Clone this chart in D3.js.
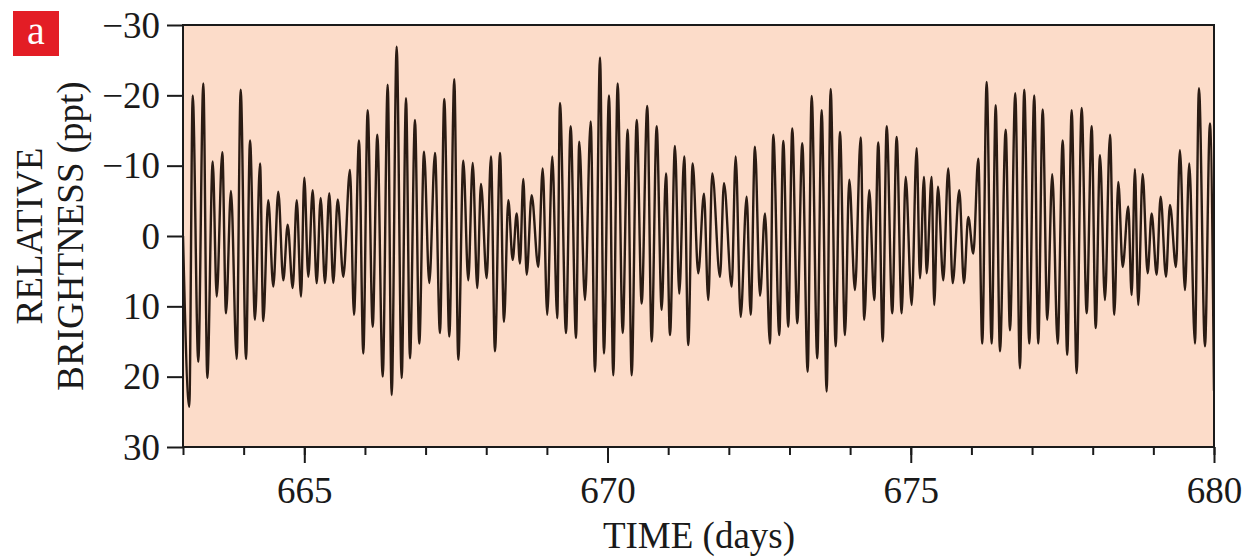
<!DOCTYPE html>
<html>
<head>
<meta charset="utf-8">
<script src="https://cdn.jsdelivr.net/npm/d3@7"></script>
<style>
  html, body { margin: 0; padding: 0; background: #ffffff; }
  svg { display: block; }
  text { font-family: "Liberation Serif", "DejaVu Serif", serif; fill: #1a1a1a; }
</style>
</head>
<body>
<svg id="chart" width="1247" height="558"></svg>
<script>
// ---- data (successive extrema of the light curve) ----
const times = [
663.000,663.104,663.160,663.252,663.335,663.401,663.490,663.556,663.648,663.709,
663.791,663.885,663.951,664.039,664.105,664.187,664.270,664.324,664.406,664.489,
664.571,664.654,664.726,664.809,664.875,664.946,665.000,665.066,665.138,665.204,
665.270,665.341,665.412,665.478,665.551,665.643,665.753,665.819,665.902,665.973,
666.045,666.128,666.204,666.293,666.375,666.441,666.523,666.606,666.677,666.743,
666.825,666.896,666.974,667.061,667.155,667.237,667.308,667.391,667.473,667.539,
667.622,667.704,667.777,667.852,667.913,668.007,668.078,668.144,668.227,668.293,
668.364,668.436,668.502,668.556,668.611,668.667,668.749,668.858,668.931,669.006,
669.089,669.171,669.216,669.315,669.392,669.480,669.534,669.628,669.722,669.793,
669.876,669.941,670.024,670.095,670.167,670.250,670.332,670.398,670.481,670.563,
670.655,670.728,670.810,670.893,670.964,671.030,671.112,671.183,671.265,671.331,
671.404,671.496,671.590,671.661,671.727,671.854,671.920,672.047,672.113,672.195,
672.294,672.360,672.431,672.514,672.596,672.678,672.733,672.832,672.898,672.980,
673.046,673.129,673.211,673.300,673.366,673.458,673.531,673.613,673.679,673.762,
673.833,673.915,673.986,674.080,674.174,674.233,674.316,674.398,674.464,674.537,
674.603,674.695,674.767,674.850,674.916,675.015,675.097,675.152,675.218,675.262,
675.344,675.387,675.448,675.536,675.618,675.691,675.800,675.877,675.948,676.031,
676.113,676.179,676.251,676.334,676.400,676.471,676.565,676.636,676.723,676.800,
676.871,676.954,677.036,677.102,677.175,677.251,677.333,677.422,677.505,677.580,
677.653,677.735,677.818,677.900,677.983,678.049,678.120,678.202,678.285,678.356,
678.422,678.494,678.586,678.642,678.696,678.751,678.823,678.906,678.972,679.054,
679.120,679.208,679.274,679.373,679.438,679.521,679.592,679.686,679.752,679.851,
679.933,680.000
];
const brightness = [
0,24.3,-20.0,17.9,-21.7,20.2,-10.6,8.6,-11.9,11.0,
-6.4,17.5,-20.8,17.5,-13.6,11.9,-10.3,12.1,-5.1,7.2,
-6.3,6.3,-1.6,7.4,-5.1,8.6,-8.3,5.8,-6.5,6.7,
-5.4,6.7,-6.1,6.7,-5.2,5.8,-9.4,11.2,-13.6,16.7,
-17.9,12.9,-14.4,20.0,-21.5,22.6,-26.9,20.2,-19.6,17.4,
-16.5,15.3,-12.0,6.7,-11.8,13.8,-19.5,14.3,-22.3,17.6,
-10.7,6.3,-10.4,7.4,-7.4,6.0,-11.3,16.4,-11.8,12.2,
-5.1,3.4,-3.2,3.9,-8.1,5.5,-5.8,4.4,-9.6,11.2,
-11.3,11.7,-18.9,13.8,-15.6,14.5,-13.4,9.1,-16.3,19.3,
-25.4,16.7,-20.0,19.8,-21.7,13.8,-15.1,19.8,-16.5,9.6,
-18.5,15.0,-15.6,10.5,-8.9,14.1,-12.8,8.2,-11.3,15.5,
-10.3,5.3,-6.0,9.1,-8.9,5.8,-7.5,7.2,-11.3,11.5,
-5.6,11.2,-12.7,8.5,-3.2,15.3,-14.4,14.1,-13.5,12.9,
-15.3,12.4,-13.2,19.3,-19.9,17.4,-17.9,22.1,-20.9,15.7,
-14.8,14.1,-8.0,7.7,-14.0,11.9,-6.5,9.1,-13.3,15.0,
-15.6,11.0,-14.1,11.0,-8.4,9.8,-12.5,6.0,-8.4,5.3,
-8.4,9.8,-7.0,6.3,-9.6,6.7,-6.5,6.7,-2.7,2.5,
-11.0,15.3,-21.9,15.3,-18.6,16.4,-15.1,13.4,-20.3,18.8,
-20.8,15.3,-20.0,15.3,-18.0,11.9,-8.8,15.3,-13.6,16.9,
-17.9,19.5,-18.2,11.0,-15.6,13.1,-11.5,9.1,-14.4,11.2,
-7.7,4.4,-4.2,8.4,-9.5,9.8,-8.8,5.3,-3.2,5.5,
-5.6,5.8,-4.4,4.4,-12.2,7.7,-10.3,15.3,-21.0,15.7,
-16.0,22.0
];
const xDomain = [663, 680];
const yDomain = [-30, 30];
const xMinorTicks = d3.range(663, 681, 1);
const xTickLabels = [665, 670, 675, 680];
const yTickLabels = [-30, -20, -10, 0, 10, 20, 30];
const panelLabel = "a";
const xTitle = "TIME (days)";
const yTitleLines = ["RELATIVE", "BRIGHTNESS (ppt)"];

// ---- layout ----
const svg = d3.select("#chart");
const L = 183, R = 1214, T = 25, B = 447;
const x = d3.scaleLinear().domain(xDomain).range([L, R]);
const y = d3.scaleLinear().domain(yDomain).range([T, B]);
const axisColor = "#1a1a1a";
const fontSize = 37;

// plot background
svg.append("rect")
  .attr("x", L).attr("y", T).attr("width", R - L).attr("height", B - T)
  .attr("fill", "#fcdcc9");

// clip for the curve
svg.append("clipPath").attr("id", "clip")
  .append("rect").attr("x", L).attr("y", T).attr("width", R - L).attr("height", B - T);

const pts = times.map((t, i) => [t, brightness[i]]);
const line = d3.line().x(d => x(d[0])).y(d => y(d[1])).curve(d3.curveMonotoneX);
svg.append("path")
  .attr("clip-path", "url(#clip)")
  .attr("d", line(pts))
  .attr("fill", "none")
  .attr("stroke", "#2a1b13")
  .attr("stroke-width", 2.4)
  .attr("stroke-linejoin", "round");

// frame
svg.append("rect")
  .attr("x", L).attr("y", T).attr("width", R - L).attr("height", B - T)
  .attr("fill", "none").attr("stroke", axisColor).attr("stroke-width", 2);

// x axis minor ticks
const gxMinor = svg.append("g").attr("transform", `translate(0,${B})`)
  .call(d3.axisBottom(x).tickValues(xMinorTicks).tickSize(8).tickSizeOuter(0).tickFormat(""));
// x axis major ticks + labels
const gx = svg.append("g").attr("transform", `translate(0,${B})`)
  .call(d3.axisBottom(x).tickValues(xTickLabels).tickSize(16).tickSizeOuter(0).tickFormat(d3.format("d")));
[gxMinor, gx].forEach(g => {
  g.select(".domain").remove();
  g.selectAll(".tick line").attr("stroke", axisColor).attr("stroke-width", 2);
});
gx.selectAll(".tick text")
  .attr("y", 56).attr("dy", null)
  .attr("font-size", fontSize)
  .attr("font-family", "Liberation Serif, serif")
  .attr("fill", "#1a1a1a");

// y axis
const gy = svg.append("g").attr("transform", `translate(${L},0)`)
  .call(d3.axisLeft(y).tickValues(yTickLabels).tickSize(16).tickSizeOuter(0).tickPadding(7));
gy.select(".domain").remove();
gy.selectAll(".tick line").attr("stroke", axisColor).attr("stroke-width", 2);
gy.selectAll(".tick text")
  .attr("font-size", fontSize)
  .attr("font-family", "Liberation Serif, serif")
  .attr("dy", "0.33em")
  .attr("fill", "#1a1a1a");

// x title
svg.append("text")
  .attr("x", 699).attr("y", 548)
  .attr("text-anchor", "middle")
  .attr("font-size", fontSize)
  .text(xTitle);

// y title (two lines, rotated)
const yMid = (T + B) / 2;
[42, 83].forEach((bx, i) => {
  svg.append("text")
    .attr("transform", `translate(${bx},${yMid}) rotate(-90)`)
    .attr("text-anchor", "middle")
    .attr("font-size", fontSize)
    .text(yTitleLines[i]);
});

// panel label
svg.append("rect")
  .attr("x", 13).attr("y", 11).attr("width", 46).attr("height", 45)
  .attr("fill", "#e31d25");
svg.append("text")
  .attr("x", 36).attr("y", 44)
  .attr("text-anchor", "middle")
  .attr("font-size", 40)
  .style("fill", "#ffffff")
  .text(panelLabel);
</script>
</body>
</html>
